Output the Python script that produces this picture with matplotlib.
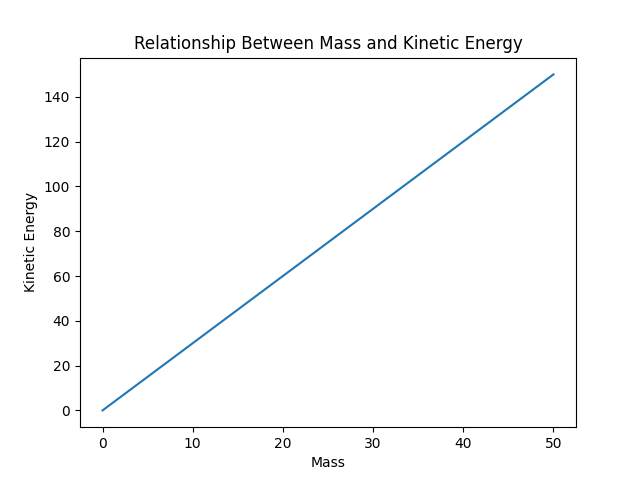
import matplotlib
matplotlib.use('Agg')
import matplotlib.pyplot as plt

mass = [0, 10, 20, 30, 40, 50]
kinetic_energy = [0, 30, 60, 90, 120, 150]

fig, ax = plt.subplots(figsize=(6.4, 4.8), dpi=100)
ax.plot(mass, kinetic_energy)
ax.set_title('Relationship Between Mass and Kinetic Energy')
ax.set_xlabel('Mass')
ax.set_ylabel('Kinetic Energy')

fig.savefig('out.png')
